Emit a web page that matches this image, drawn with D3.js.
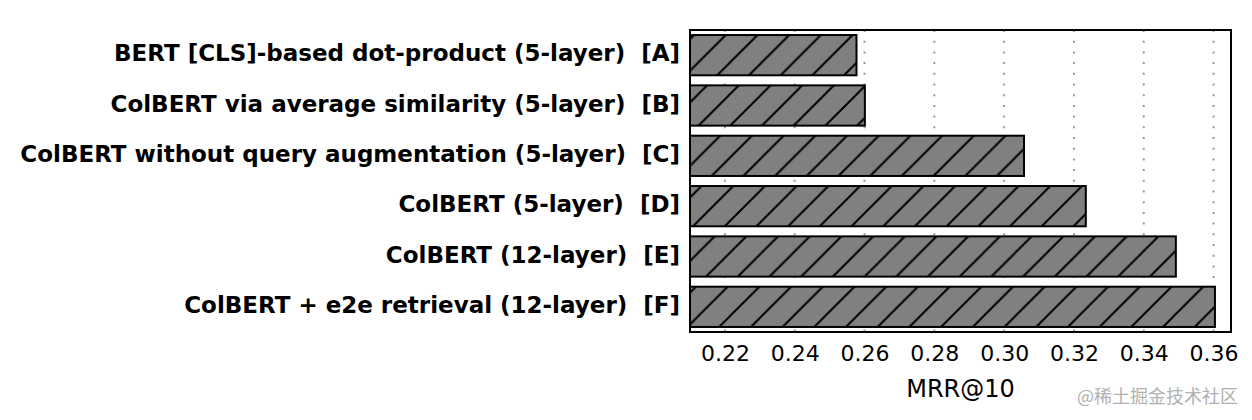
<!DOCTYPE html>
<html>
<head>
<meta charset="utf-8">
<script src="https://cdn.jsdelivr.net/npm/d3@7"></script>
<style>
    body { margin: 0; background: #fff; }
    svg { display: block; }
    text { white-space: pre; }
</style>
</head>
<body>
<svg id="chart" width="1252" height="420"></svg>
<script>
// data
const labels = [
    'BERT [CLS]-based dot-product (5-layer)  [A]',
    'ColBERT via average similarity (5-layer)  [B]',
    'ColBERT without query augmentation (5-layer)  [C]',
    'ColBERT (5-layer)  [D]',
    'ColBERT (12-layer)  [E]',
    'ColBERT + e2e retrieval (12-layer)  [F]'
];
const mrr = [0.2577, 0.2601, 0.3057, 0.3234, 0.3492, 0.3604];
const ticks = [0.22, 0.24, 0.26, 0.28, 0.30, 0.32, 0.34, 0.36];

const plotLeft = 690, plotRight = 1231, plotTop = 30, plotBottom = 332;
const svg = d3.select('#chart');

const x = d3.scaleLinear().domain([0.21, 0.365]).range([plotLeft, plotRight]);
const y = d3.scaleBand().domain(labels).range([plotTop, plotBottom])
            .paddingInner(0.2).paddingOuter(0.1);

// hatch pattern
const pat = svg.append('defs').append('pattern')
               .attr('id', 'hatch')
               .attr('patternUnits', 'userSpaceOnUse')
               .attr('width', 31.7).attr('height', 31.7);
pat.append('rect').attr('width', 31.7).attr('height', 31.7).attr('fill', '#808080');
pat.append('path')
   .attr('d', 'M-8,8 L8,-8 M0,31.7 L31.7,0 M23.7,39.7 L39.7,23.7')
   .attr('stroke', '#000').attr('stroke-width', 2);

// dotted grid
svg.append('g').selectAll('line')
   .data(ticks)
   .enter()
   .append('line')
   .attr('x1', d => x(d)).attr('x2', d => x(d))
   .attr('y1', plotTop).attr('y2', plotBottom)
   .attr('stroke', '#999').attr('stroke-width', 2)
   .attr('stroke-dasharray', '2,8.7');

// bars
svg.append('g').selectAll('rect')
   .data(mrr)
   .enter()
   .append('rect')
   .attr('x', x(0.21))
   .attr('y', (d, i) => y(labels[i]))
   .attr('width', d => x(d) - x(0.21))
   .attr('height', y.bandwidth())
   .attr('fill', 'url(#hatch)')
   .attr('stroke', '#000').attr('stroke-width', 2);

// frame
svg.append('rect')
   .attr('x', plotLeft).attr('y', plotTop)
   .attr('width', plotRight - plotLeft).attr('height', plotBottom - plotTop)
   .attr('fill', 'none').attr('stroke', '#000').attr('stroke-width', 2);

// x axis labels
const xAxis = d3.axisBottom(x).tickValues(ticks).tickSize(0).tickPadding(13.4)
                .tickFormat(d3.format('.2f'));
const gx = svg.append('g')
              .attr('transform', 'translate(0,' + plotBottom + ')')
              .call(xAxis);
gx.select('.domain').remove();
gx.selectAll('text')
  .attr('font-family', 'DejaVu Sans').attr('font-size', 22).attr('fill', '#000');

// category labels
svg.append('g').selectAll('text')
   .data(labels)
   .enter()
   .append('text')
   .attr('x', plotLeft - 10)
   .attr('y', d => y(d) + y.bandwidth() / 2)
   .attr('dy', '0.27em')
   .attr('text-anchor', 'end')
   .attr('font-family', 'DejaVu Sans').attr('font-weight', 'bold')
   .attr('font-size', 23)
   .text(d => d);

svg.append('text')
   .attr('x', (plotLeft + plotRight) / 2).attr('y', 397)
   .attr('text-anchor', 'middle')
   .attr('font-family', 'DejaVu Sans').attr('font-size', 24)
   .text('MRR@10');

svg.append('text')
   .attr('x', 1238).attr('y', 403)
   .attr('text-anchor', 'end')
   .attr('font-family', 'Noto Sans CJK SC').attr('font-size', 18)
   .attr('fill', '#b0b0b0')
   .text('@稀土掘金技术社区');
</script>
</body>
</html>
